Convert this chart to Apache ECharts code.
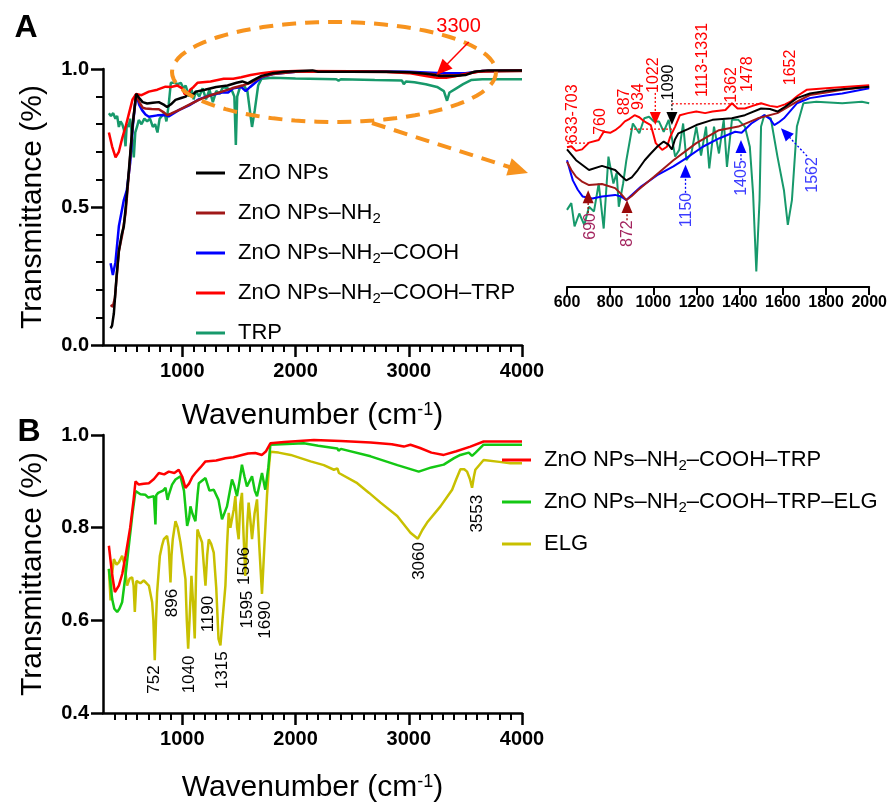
<!DOCTYPE html>
<html>
<head>
<meta charset="utf-8">
<script src="https://cdn.jsdelivr.net/npm/echarts@6/dist/echarts.min.js"></script>
<style>
html, body { margin: 0; padding: 0; background: #fff; }
#chart { width: 890px; height: 804px; }
</style>
</head>
<body>
<div id="chart"></div>
<script>
var FONT = 'Liberation Sans, Arial, sans-serif';

// ---- tick values ----
var xMajorTicks = [1000, 2000, 3000, 4000];
var xMinorTicks = [400, 500, 600, 700, 800, 900, 1100, 1200, 1300, 1400, 1500, 1600, 1700, 1800, 1900,
	2100, 2200, 2300, 2400, 2500, 2600, 2700, 2800, 2900, 3100, 3200, 3300, 3400, 3500, 3600, 3700, 3800, 3900];
var yMajorA = [0, 0.5, 1.0];
var yMinorA = [0.1, 0.2, 0.3, 0.4, 0.6, 0.7, 0.8, 0.9];

// ---- panel A, full range ----
var znoNps = [[367,0.06],[380,0.07],[396,0.115],[420,0.25],[440,0.34],[465,0.40],[484,0.43],[505,0.52],[528,0.63],[560,0.79],[593,0.91],[620,0.895],[650,0.88],[690,0.875],[740,0.878],[793,0.88],[840,0.87],[866,0.862],[900,0.872],[940,0.888],[990,0.895],[1030,0.90],[1057,0.913],[1090,0.905],[1120,0.918],[1200,0.925],[1300,0.935],[1400,0.94],[1480,0.95],[1530,0.955],[1580,0.948],[1620,0.958],[1700,0.975],[1800,0.985],[1900,0.99],[2000,0.992],[2150,0.995],[2200,0.99],[2500,0.99],[2800,0.99],[3000,0.988],[3150,0.983],[3280,0.975],[3400,0.975],[3500,0.978],[3580,0.99],[3700,0.995],[4000,0.995]];
var znoNh2 = [[367,0.145],[387,0.139],[405,0.17],[440,0.34],[470,0.40],[500,0.48],[530,0.63],[560,0.79],[593,0.91],[620,0.88],[650,0.86],[675,0.857],[730,0.855],[793,0.854],[840,0.842],[866,0.833],[900,0.838],[969,0.851],[1050,0.868],[1146,0.888],[1250,0.905],[1350,0.918],[1439,0.93],[1530,0.94],[1600,0.95],[1700,0.972],[1800,0.982],[2000,0.99],[2500,0.99],[3000,0.988],[3200,0.982],[3300,0.976],[3450,0.978],[3600,0.99],[4000,0.993]];
var znoCooh = [[367,0.296],[387,0.254],[410,0.30],[440,0.43],[484,0.525],[510,0.56],[540,0.66],[565,0.80],[593,0.91],[620,0.87],[645,0.851],[675,0.835],[705,0.827],[780,0.832],[852,0.833],[880,0.828],[969,0.851],[1060,0.868],[1146,0.89],[1250,0.905],[1350,0.915],[1405,0.915],[1450,0.93],[1520,0.935],[1560,0.92],[1600,0.935],[1700,0.97],[1800,0.982],[2000,0.99],[2500,0.992],[3000,0.99],[3300,0.985],[3500,0.985],[3650,0.993],[4000,0.995]];
var znoTrp = [[352,0.77],[380,0.72],[411,0.68],[440,0.70],[470,0.75],[499,0.79],[530,0.84],[561,0.89],[593,0.91],[640,0.905],[705,0.918],[780,0.925],[852,0.936],[900,0.935],[958,0.94],[1000,0.93],[1020,0.91],[1046,0.905],[1070,0.925],[1100,0.935],[1134,0.95],[1250,0.955],[1366,0.965],[1450,0.965],[1520,0.97],[1604,0.978],[1700,0.985],[1807,0.99],[2000,0.993],[2500,0.992],[2800,0.99],[3000,0.985],[3150,0.975],[3250,0.968],[3330,0.968],[3420,0.975],[3550,0.985],[3650,0.993],[4000,0.995]];
var trp = [[352,0.84],[370,0.83],[390,0.84],[410,0.82],[425,0.83],[440,0.79],[455,0.81],[470,0.80],[485,0.78],[499,0.72],[510,0.80],[525,0.79],[540,0.82],[555,0.76],[572,0.68],[585,0.77],[600,0.79],[616,0.815],[640,0.80],[665,0.82],[690,0.81],[715,0.82],[740,0.79],[760,0.80],[781,0.77],[800,0.82],[820,0.83],[845,0.84],[860,0.81],[880,0.87],[899,0.95],[930,0.95],[960,0.945],[987,0.95],[1010,0.93],[1030,0.94],[1060,0.90],[1080,0.93],[1100,0.89],[1120,0.92],[1150,0.90],[1180,0.93],[1210,0.89],[1240,0.925],[1270,0.88],[1300,0.92],[1330,0.91],[1360,0.935],[1400,0.93],[1440,0.92],[1460,0.90],[1473,0.725],[1485,0.90],[1510,0.935],[1545,0.94],[1575,0.92],[1600,0.84],[1616,0.79],[1640,0.85],[1670,0.94],[1700,0.965],[1800,0.968],[2000,0.966],[2360,0.963],[2380,0.958],[2400,0.963],[2700,0.96],[2940,0.958],[2956,0.945],[2975,0.955],[3050,0.952],[3150,0.945],[3250,0.935],[3310,0.92],[3338,0.885],[3360,0.915],[3420,0.93],[3480,0.945],[3550,0.96],[3650,0.963],[4000,0.963]];

// ---- panel A, inset 600-2000 ----
var inZno = [[600,0.866],[642,0.845],[702,0.826],[762,0.834],[823,0.826],[850,0.815],[875,0.806],[900,0.812],[928,0.826],[960,0.845],[988,0.858],[1020,0.872],[1048,0.881],[1070,0.875],[1086,0.866],[1100,0.885],[1116,0.897],[1160,0.905],[1199,0.913],[1274,0.923],[1364,0.926],[1424,0.932],[1499,0.945],[1540,0.944],[1575,0.939],[1610,0.948],[1665,0.965],[1725,0.974],[1800,0.979],[1875,0.982],[1950,0.985],[2000,0.987]];
var inNh2 = [[600,0.842],[620,0.826],[642,0.813],[672,0.803],[702,0.797],[762,0.799],[823,0.791],[850,0.78],[875,0.768],[900,0.776],[928,0.787],[1003,0.813],[1093,0.845],[1199,0.878],[1304,0.903],[1394,0.91],[1484,0.926],[1575,0.936],[1665,0.958],[1725,0.971],[1800,0.976],[1875,0.981],[2000,0.987]];
var inCooh = [[600,0.845],[627,0.806],[650,0.788],[672,0.775],[717,0.771],[762,0.775],[823,0.778],[850,0.775],[875,0.768],[900,0.778],[943,0.794],[1018,0.816],[1093,0.833],[1153,0.849],[1229,0.871],[1304,0.887],[1379,0.90],[1409,0.898],[1454,0.916],[1514,0.932],[1540,0.925],[1560,0.913],[1580,0.918],[1605,0.926],[1665,0.955],[1725,0.965],[1800,0.97],[1875,0.974],[2000,0.984]];
var inTrpConj = [[600,0.870],[620,0.872],[642,0.863],[670,0.866],[702,0.879],[747,0.884],[770,0.90],[800,0.898],[823,0.903],[845,0.91],[868,0.92],[890,0.925],[913,0.932],[935,0.928],[958,0.92],[988,0.913],[1000,0.895],[1011,0.878],[1025,0.872],[1041,0.865],[1063,0.871],[1078,0.89],[1101,0.91],[1123,0.932],[1160,0.936],[1199,0.939],[1240,0.936],[1274,0.939],[1334,0.942],[1364,0.955],[1390,0.945],[1424,0.945],[1460,0.95],[1499,0.955],[1540,0.95],[1575,0.948],[1610,0.953],[1635,0.958],[1670,0.97],[1710,0.981],[1800,0.984],[1900,0.987],[2000,0.99]];
var inTrp = [[600,0.749],[620,0.762],[635,0.717],[657,0.742],[680,0.72],[702,0.755],[725,0.746],[747,0.80],[770,0.713],[792,0.852],[815,0.80],[830,0.82],[840,0.755],[860,0.80],[875,0.845],[905,0.916],[935,0.897],[958,0.926],[980,0.929],[1003,0.92],[1026,0.92],[1048,0.90],[1071,0.923],[1101,0.852],[1120,0.865],[1138,0.916],[1153,0.845],[1176,0.858],[1199,0.91],[1221,0.854],[1244,0.91],[1259,0.829],[1281,0.91],[1304,0.858],[1326,0.923],[1341,0.832],[1364,0.923],[1394,0.923],[1424,0.91],[1447,0.871],[1462,0.781],[1477,0.63],[1492,0.768],[1499,0.91],[1514,0.932],[1544,0.926],[1575,0.852],[1605,0.787],[1623,0.72],[1642,0.768],[1665,0.91],[1695,0.955],[1755,0.958],[1875,0.955],[1966,0.958],[2000,0.955]];

// ---- panel B ----
var bTrpConj = [[352,0.761],[380,0.70],[405,0.661],[420,0.665],[440,0.675],[470,0.70],[499,0.739],[540,0.80],[570,0.86],[587,0.90],[616,0.893],[660,0.895],[705,0.896],[750,0.905],[793,0.918],[840,0.915],[881,0.921],[930,0.918],[969,0.925],[1000,0.91],[1028,0.886],[1060,0.895],[1090,0.91],[1116,0.918],[1160,0.93],[1205,0.943],[1300,0.945],[1381,0.95],[1450,0.952],[1527,0.957],[1580,0.96],[1645,0.961],[1704,0.957],[1740,0.965],[1778,0.982],[1900,0.985],[2162,0.989],[2400,0.987],[2663,0.984],[2850,0.98],[2956,0.975],[3015,0.979],[3100,0.972],[3200,0.962],[3309,0.957],[3420,0.965],[3544,0.975],[3661,0.986],[4000,0.986]];
var bTrpElg = [[352,0.711],[381,0.646],[400,0.625],[425,0.618],[445,0.625],[469,0.639],[500,0.70],[528,0.761],[560,0.83],[587,0.879],[630,0.872],[675,0.871],[700,0.865],[749,0.868],[763,0.807],[770,0.87],[787,0.875],[830,0.88],[852,0.886],[870,0.86],[881,0.871],[910,0.893],[940,0.904],[984,0.911],[1015,0.88],[1043,0.804],[1060,0.82],[1072,0.846],[1090,0.83],[1116,0.814],[1135,0.87],[1146,0.896],[1205,0.907],[1240,0.88],[1278,0.882],[1320,0.86],[1351,0.818],[1395,0.846],[1439,0.904],[1460,0.89],[1483,0.868],[1505,0.90],[1527,0.936],[1550,0.91],[1571,0.889],[1616,0.911],[1640,0.88],[1660,0.868],[1704,0.918],[1733,0.882],[1760,0.93],[1778,0.979],[2074,0.982],[2200,0.977],[2369,0.971],[2380,0.966],[2400,0.97],[2663,0.954],[2900,0.935],[3088,0.921],[3200,0.93],[3309,0.936],[3400,0.95],[3456,0.957],[3530,0.962],[3559,0.955],[3590,0.962],[3661,0.979],[4000,0.979]];
var elg = [[352,0.711],[367,0.643],[380,0.70],[396,0.732],[420,0.72],[440,0.725],[469,0.739],[490,0.72],[513,0.675],[535,0.69],[557,0.693],[570,0.675],[581,0.618],[595,0.685],[602,0.689],[630,0.68],[660,0.686],[685,0.68],[705,0.675],[734,0.639],[745,0.60],[757,0.514],[768,0.60],[778,0.661],[790,0.70],[802,0.739],[820,0.76],[837,0.775],[866,0.782],[880,0.76],[896,0.682],[905,0.74],[916,0.775],[940,0.814],[960,0.80],[984,0.768],[1005,0.73],[1028,0.689],[1040,0.60],[1052,0.539],[1064,0.60],[1081,0.696],[1095,0.64],[1110,0.561],[1122,0.70],[1134,0.796],[1150,0.785],[1175,0.768],[1190,0.72],[1205,0.675],[1220,0.74],[1234,0.775],[1255,0.765],[1278,0.746],[1300,0.67],[1320,0.56],[1337,0.546],[1355,0.60],[1381,0.675],[1395,0.76],[1410,0.832],[1425,0.80],[1439,0.796],[1455,0.84],[1469,0.868],[1484,0.80],[1498,0.775],[1512,0.85],[1527,0.875],[1542,0.78],[1557,0.696],[1572,0.80],[1586,0.854],[1600,0.82],[1616,0.775],[1638,0.83],[1660,0.861],[1680,0.76],[1704,0.657],[1725,0.76],[1748,0.868],[1765,0.93],[1778,0.964],[1850,0.962],[1957,0.957],[2133,0.943],[2250,0.935],[2339,0.925],[2370,0.928],[2383,0.918],[2395,0.922],[2545,0.896],[2650,0.875],[2751,0.854],[2898,0.825],[3015,0.789],[3080,0.776],[3120,0.795],[3162,0.811],[3280,0.846],[3383,0.882],[3420,0.905],[3456,0.926],[3490,0.926],[3515,0.921],[3540,0.905],[3559,0.886],[3575,0.91],[3588,0.925],[3661,0.946],[3800,0.942],[3897,0.939],[4000,0.939]];

// ---- peak annotations: [text, wavenumber, transmittance of label end] ----
var insetAbove = [['633-703',626,0.878,'r'],['760',757,0.894,'r'],['887',869,0.932,'r'],['934',932,0.942,'r'],['1022',1000,0.975,'r'],['1090',1072,0.961,'k'],['1113-1331',1230,0.967,'r'],['1362',1361,0.956,'r'],['1478',1437,0.977,'r'],['1652',1636,0.990,'r']];
var insetBelow = [['690',711,0.743,'m'],['872',883,0.729,'m'],['1150',1153,0.782,'b'],['1405',1410,0.845,'b'],['1562',1740,0.851,'b']];
// arrows: [tip wn, tip T, tail wn, tail T, colour key]
var insetArrows = [[1009,0.913,1009,0.975,'r'],[1086,0.913,1086,0.961,'k'],[698,0.787,698,0.743,'m'],[878,0.768,878,0.729,'m'],[1149,0.836,1149,0.782,'b'],[1406,0.884,1406,0.845,'b'],[1591,0.907,1712,0.853,'b']];
var insetRanges = [[600,703,0.878],[892,1086,0.905],[1086,1500,0.954]];
var bPeaks = [['752',752,0.503],['896',916,0.668],['1040',1063,0.524],['1190',1228,0.653],['1315',1357,0.533],['1506',1549,0.758],['1595',1578,0.664],['1690',1734,0.642],['3060',3089,0.769],['3553',3603,0.871]];

var nameA = ['ZnO NPs', 'ZnO NPs–NH2', 'ZnO NPs–NH2–COOH', 'ZnO NPs–NH2–COOH–TRP', 'TRP'];
var nameB = ['ZnO NPs–NH2–COOH–TRP', 'ZnO NPs–NH2–COOH–TRP–ELG', 'ELG'];

var col = {
	zno: '#000000', nh2: '#a01818', cooh: '#0000ff', trpConj: '#ff0000', trp: '#17996b',
	elgConj: '#14c814', elg: '#c8c000'
};
var annCol = { r: '#ff0000', k: '#000000', m: '#a3245e', b: '#3c3cff' };
var arrowCol = { r: '#ff0000', k: '#000000', m: '#990a0a', b: '#0000ff' };

function plain(v) { return String(v); }

function line(name, data, color, width, xi, yi) {
	return {
		name: name, type: 'line', data: data, xAxisIndex: xi, yAxisIndex: yi,
		showSymbol: false, symbol: 'none', silent: true,
		lineStyle: { color: color, width: width }, itemStyle: { color: color }
	};
}

function mainX(grid, nameGap) {
	return [{
		gridIndex: grid, type: 'value', position: 'bottom', min: 300, max: 4000,
		name: 'Wavenumber (cm{sup|-1})', nameLocation: 'middle', nameGap: nameGap,
		nameTextStyle: { fontSize: 30, fontFamily: FONT, color: '#000',
			rich: { sup: { fontSize: 18, verticalAlign: 'top', fontFamily: FONT, color: '#000' } } },
		axisLine: { lineStyle: { color: '#000', width: 2.5 } },
		axisTick: { customValues: xMinorTicks, length: 7, lineStyle: { color: '#000', width: 2 } },
		axisLabel: { customValues: xMajorTicks, formatter: plain, fontSize: 20, fontWeight: 'bold',
			fontFamily: FONT, color: '#000', margin: 16 },
		splitLine: { show: false }
	}, {
		gridIndex: grid, type: 'value', position: 'bottom', min: 300, max: 4000,
		axisLine: { show: false },
		axisTick: { customValues: xMajorTicks, length: 12, lineStyle: { color: '#000', width: 2.5 } },
		axisLabel: { show: false }, splitLine: { show: false }
	}];
}

var legendText = {
	fontSize: 22, fontFamily: FONT, color: '#000', lineHeight: 26, padding: [0, 0, 0, 8],
	rich: { sub: { fontSize: 15, fontFamily: FONT, color: '#000', verticalAlign: 'bottom', lineHeight: 26 } }
};
function legendFmt(n) { return n.replace('NH2', 'NH{sub|2}'); }

var xAxes = mainX(0, 56).concat([{
	gridIndex: 1, type: 'value', min: 600, max: 2000, interval: 200,
	axisLine: { lineStyle: { color: '#000', width: 2 } },
	axisTick: { length: 8, lineStyle: { color: '#000', width: 2 } },
	axisLabel: { formatter: plain, fontSize: 16, fontWeight: 'bold', fontFamily: FONT, color: '#000', margin: 8 },
	splitLine: { show: false }
}]).concat(mainX(2, 60));

var option = {
	animation: false,
	backgroundColor: '#fff',
	grid: [
		{ left: 103, top: 69, width: 419, height: 276 },
		{ left: 567, top: 80, width: 311, height: 207 },
		{ left: 103, top: 435, width: 419, height: 280 }
	],
	xAxis: xAxes,
	yAxis: [{
		gridIndex: 0, type: 'value', position: 'left', min: 0, max: 1,
		name: 'Transmittance (%)', nameLocation: 'middle', nameGap: 55,
		nameTextStyle: { fontSize: 30, fontFamily: FONT, color: '#000' },
		axisLine: { show: true, lineStyle: { color: '#000', width: 2.5 } },
		axisTick: { show: true, customValues: yMinorA, length: 7, lineStyle: { color: '#000', width: 2 } },
		axisLabel: { customValues: yMajorA, formatter: function (v) { return v.toFixed(1); },
			fontSize: 20, fontWeight: 'bold', fontFamily: FONT, color: '#000', margin: 14 },
		splitLine: { show: false }
	}, {
		gridIndex: 0, type: 'value', position: 'left', min: 0, max: 1,
		axisLine: { show: false },
		axisTick: { show: true, customValues: yMajorA, length: 12, lineStyle: { color: '#000', width: 2.5 } },
		axisLabel: { show: false }, splitLine: { show: false }
	}, {
		gridIndex: 1, type: 'value', min: 0.6, max: 1.0, show: false
	}, {
		gridIndex: 2, type: 'value', position: 'left', min: 0.4, max: 1.0, interval: 0.2,
		name: 'Transmittance (%)', nameLocation: 'middle', nameGap: 55,
		nameTextStyle: { fontSize: 30, fontFamily: FONT, color: '#000' },
		axisLine: { show: true, lineStyle: { color: '#000', width: 2.5 } },
		axisTick: { show: true, length: 12, lineStyle: { color: '#000', width: 2.5 } },
		axisLabel: { formatter: function (v) { return v.toFixed(1); },
			fontSize: 20, fontWeight: 'bold', fontFamily: FONT, color: '#000', margin: 14 },
		splitLine: { show: false }
	}],
	legend: [{
		data: nameA, orient: 'vertical', left: 191, top: 155, icon: 'rect',
		itemWidth: 29, itemHeight: 3, itemGap: 14, formatter: legendFmt, textStyle: legendText,
		selectedMode: false
	}, {
		data: nameB, orient: 'vertical', left: 497, top: 442, icon: 'rect',
		itemWidth: 29, itemHeight: 3, itemGap: 16, formatter: legendFmt, textStyle: legendText,
		selectedMode: false
	}],
	series: [
		// A main (0-4)
		line('TRP', trp, col.trp, 2.5, 0, 0),
		line('ZnO NPs–NH2–COOH', znoCooh, col.cooh, 2.5, 0, 0),
		line('ZnO NPs–NH2', znoNh2, col.nh2, 2.5, 0, 0),
		line('ZnO NPs–NH2–COOH–TRP', znoTrp, col.trpConj, 2.5, 0, 0),
		line('ZnO NPs', znoNps, col.zno, 2.5, 0, 0),
		// inset (5-9)
		line('TRP', inTrp, col.trp, 2, 2, 2),
		line('ZnO NPs–NH2–COOH', inCooh, col.cooh, 2, 2, 2),
		line('ZnO NPs–NH2', inNh2, col.nh2, 2, 2, 2),
		line('ZnO NPs–NH2–COOH–TRP', inTrpConj, col.trpConj, 2, 2, 2),
		line('ZnO NPs', inZno, col.zno, 2, 2, 2),
		// B (10-12)
		line('ELG', elg, col.elg, 2.5, 3, 3),
		line('ZnO NPs–NH2–COOH–TRP–ELG', bTrpElg, col.elgConj, 2.5, 3, 3),
		line('ZnO NPs–NH2–COOH–TRP', bTrpConj, col.trpConj, 2.5, 3, 3)
	]
};

var chart = echarts.init(document.getElementById('chart'));
chart.setOption(option);

// ---- annotations, positioned through the axes ----
function P(si, x, y) { return chart.convertToPixel({ seriesIndex: si }, [x, y]); }

function vText(p, text, color, align, size) {
	return { type: 'text', x: p[0], y: p[1], rotation: Math.PI / 2, silent: true, z: 50,
		style: { text: text, fill: color, fontSize: size, fontFamily: FONT, align: align, verticalAlign: 'middle' } };
}
function hText(x, y, text, color, size, weight) {
	return { type: 'text', x: x, y: y, silent: true, z: 50,
		style: { text: text, fill: color, fontSize: size, fontWeight: weight || 'normal', fontFamily: FONT,
			align: 'center', verticalAlign: 'middle' } };
}
function head(tip, ang, color, len, w) {
	var bx = tip[0] - len * Math.cos(ang), by = tip[1] - len * Math.sin(ang);
	var px = -Math.sin(ang) * w / 2, py = Math.cos(ang) * w / 2;
	return { type: 'polygon', silent: true, z: 50,
		shape: { points: [[tip[0], tip[1]], [bx + px, by + py], [bx - px, by - py]] },
		style: { fill: color } };
}
function seg(a, b, color, width, dash) {
	return { type: 'line', silent: true, z: 49,
		shape: { x1: a[0], y1: a[1], x2: b[0], y2: b[1] },
		style: { stroke: color, lineWidth: width, lineDash: dash || null } };
}

var g = [];
g.push(hText(26, 28, 'A', '#000', 32, 'bold'));
g.push(hText(29, 432, 'B', '#000', 32, 'bold'));

// orange dashed ellipse and pointer to the inset
var ell = [];
for (var i = 0; i <= 90; i++) {
	var a = i / 90 * Math.PI * 2;
	ell.push([334 + 162 * Math.cos(a), 72 + 50 * Math.sin(a)]);
}
g.push({ type: 'polyline', silent: true, z: 40, shape: { points: ell },
	style: { stroke: '#f7931e', lineWidth: 4, lineDash: [14, 9], fill: null } });
var aS = [372, 123], aE = [528, 173];
var aAng = Math.atan2(aE[1] - aS[1], aE[0] - aS[0]);
g.push(seg(aS, [aE[0] - 18 * Math.cos(aAng), aE[1] - 18 * Math.sin(aAng)], '#f7931e', 4, [14, 9]));
g.push(head(aE, aAng, '#f7931e', 20, 18));

// 3300 arrow in A
var t3300 = P(0, 3440, 1.155), tail3300 = P(0, 3530, 1.098), tip3300 = P(0, 3244, 0.978);
g.push(hText(t3300[0], t3300[1], '3300', '#ff0000', 20));
var ang3300 = Math.atan2(tip3300[1] - tail3300[1], tip3300[0] - tail3300[0]);
g.push(seg(tail3300, [tip3300[0] - 12 * Math.cos(ang3300), tip3300[1] - 12 * Math.sin(ang3300)], '#ff0000', 1.5));
g.push(head(tip3300, ang3300, '#ff0000', 16, 14));

// inset labels
insetAbove.forEach(function (d) { g.push(vText(P(5, d[1], d[2]), d[0], annCol[d[3]], 'left', 16)); });
insetBelow.forEach(function (d) { g.push(vText(P(5, d[1], d[2]), d[0], annCol[d[3]], 'right', 16)); });
insetRanges.forEach(function (d) {
	g.push(seg(P(5, d[0], d[2]), P(5, d[1], d[2]), '#ff0000', 1.2, [2, 2]));
});
insetArrows.forEach(function (d) {
	var tip = P(5, d[0], d[1]), tail = P(5, d[2], d[3]);
	var ang = Math.atan2(tip[1] - tail[1], tip[0] - tail[0]);
	var base = [tip[0] - 12 * Math.cos(ang), tip[1] - 12 * Math.sin(ang)];
	g.push(seg(tail, base, arrowCol[d[4]], 1.3, [2, 2]));
	g.push(head(tip, ang, arrowCol[d[4]], 13, 11));
});

// B peak labels
bPeaks.forEach(function (d) { g.push(vText(P(10, d[1], d[2]), d[0], '#000', 'right', 17)); });

chart.setOption({ graphic: g });
</script>
</body>
</html>
